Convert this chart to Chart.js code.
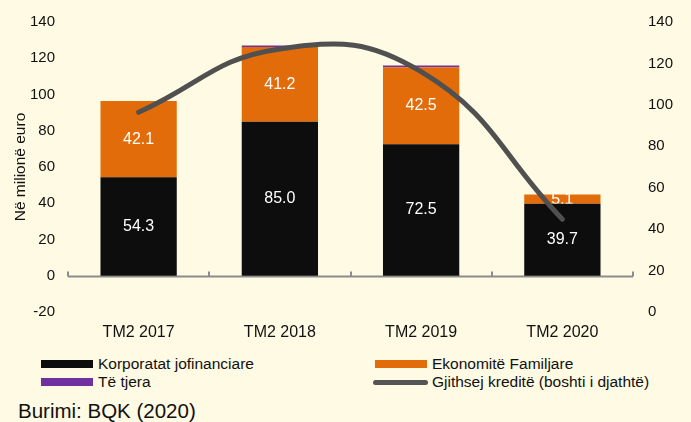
<!DOCTYPE html>
<html>
<head>
<meta charset="utf-8">
<script src="https://cdn.jsdelivr.net/npm/chart.js@4/dist/chart.umd.min.js"></script>
<style>
  html, body { margin: 0; padding: 0; background: #FEFAE3; }
  body { width: 691px; height: 422px; position: relative; overflow: hidden; font-family: Arial, "Liberation Sans", sans-serif; color: #111; }
  #wrap { position: absolute; left: 0; top: 0; width: 691px; height: 345px; }
  .leg { position: absolute; font-size: 15.5px; line-height: 18px; white-space: nowrap; }
  .leg i { position: absolute; top: 5px; width: 52px; height: 8px; }
  .leg span { position: absolute; left: 57px; top: 0; }
  #src { position: absolute; left: 18px; top: 400px; font-size: 20.5px; line-height: 22px; }
</style>
</head>
<body>
<div id="wrap"><canvas id="kredite" width="691" height="345"></canvas></div>
<div class="leg" style="left:41px; top:355px"><i style="background:#0D0D0D"></i><span>Korporatat jofinanciare</span></div>
<div class="leg" style="left:375px; top:355px"><i style="background:#E36C0A"></i><span>Ekonomitë Familjare</span></div>
<div class="leg" style="left:41px; top:373px"><i style="background:#7030A0"></i><span>Të tjera</span></div>
<div class="leg" style="left:375px; top:373px"><i style="background:#555; height:5px; top:7px; border-radius:3px; left:-2px; width:55px"></i><span>Gjithsej kreditë (boshti i djathtë)</span></div>
<div id="src">Burimi: BQK (2020)</div>
<script>
// data
const categories = ['TM2 2017', 'TM2 2018', 'TM2 2019', 'TM2 2020'];
const korporatat = [54.3, 85.0, 72.5, 39.7];
const familjare = [42.1, 41.2, 42.5, 5.1];
const teTjera = [0.0, 0.8, 1.0, 0.0];
const gjithsej = [96.4, 127.0, 116.0, 44.8];
const leftTicks = [-20, 0, 20, 40, 60, 80, 100, 120, 140];
const rightTicks = [0, 20, 40, 60, 80, 100, 120, 140];

// white value labels inside the bar segments (drawn before the line)
const barLabels = {
  id: 'barLabels',
  afterDatasetDraw(chart, args) {
    const meta = args.meta;
    if (meta.type !== 'bar' || args.index > 2) return;
    const ctx = chart.ctx;
    const ds = chart.data.datasets[args.index];
    ctx.save();
    ctx.fillStyle = '#fff';
    ctx.font = '16px Arial';
    ctx.textAlign = 'center';
    ctx.textBaseline = 'middle';
    meta.data.forEach((bar, i) => {
      const y = (bar.y + bar.base) / 2;
      ctx.fillText(ds.data[i].toFixed(1), bar.x, y);
    });
    ctx.restore();
  }
};

// zero line with small ticks between categories
const zeroAxis = {
  id: 'zeroAxis',
  beforeDatasetsDraw(chart) {
    const ctx = chart.ctx;
    const area = chart.chartArea;
    const y0 = Math.round(chart.scales.y.getPixelForValue(0)) + 0.5;
    const step = (area.right - area.left) / categories.length;
    ctx.save();
    ctx.strokeStyle = '#8C8C8C';
    ctx.lineWidth = 2;
    ctx.beginPath();
    ctx.moveTo(area.left, y0);
    ctx.lineTo(area.right, y0);
    for (let i = 0; i <= categories.length; i++) {
      const x = Math.round(area.left + i * step);
      ctx.moveTo(x, y0);
      ctx.lineTo(x, y0 - 5);
    }
    ctx.stroke();
    ctx.restore();
  }
};

const tickFont = { family: 'Arial', size: 15 };

new Chart(document.getElementById('kredite'), {
  data: {
    labels: categories,
    datasets: [
      { type: 'line', label: 'Gjithsej kreditë (boshti i djathtë)', data: gjithsej, yAxisID: 'y1',
        borderColor: '#505050', borderWidth: 5, tension: 0.45, pointRadius: 0, borderCapStyle: 'round', order: 0 },
      { type: 'bar', label: 'Korporatat jofinanciare', data: korporatat, backgroundColor: '#0D0D0D', stack: 's', order: 1 },
      { type: 'bar', label: 'Ekonomitë Familjare', data: familjare, backgroundColor: '#E36C0A', stack: 's', order: 1 },
      { type: 'bar', label: 'Të tjera', data: teTjera, backgroundColor: '#7030A0', stack: 's', order: 1 }
    ]
  },
  options: {
    responsive: false,
    animation: false,
    layout: { padding: { top: 22, left: 11, right: 0, bottom: 0 } },
    datasets: { bar: { barPercentage: 0.54, categoryPercentage: 1 } },
    plugins: { legend: { display: false }, tooltip: { enabled: false } },
    scales: {
      x: {
        stacked: true,
        grid: { display: false },
        border: { display: false },
        ticks: { font: { family: 'Arial', size: 16 }, color: '#111', padding: 3 },
        afterFit: s => { s.height = 33; }
      },
      y: {
        stacked: true,
        min: -20, max: 140,
        afterBuildTicks: s => { s.ticks = leftTicks.map(v => ({ value: v })); },
        grid: { display: false },
        border: { display: false },
        ticks: { font: tickFont, color: '#111', padding: 5 },
        title: { display: true, text: 'Në milionë euro', font: { family: 'Arial', size: 15.5 }, color: '#111', padding: 0 },
        afterFit: s => { s.width = 57; }
      },
      y1: {
        position: 'right',
        min: 0, max: 140,
        afterBuildTicks: s => { s.ticks = rightTicks.map(v => ({ value: v })); },
        grid: { display: false },
        border: { display: false },
        ticks: { font: tickFont, color: '#111', padding: 7 },
        afterFit: s => { s.width = 58; }
      }
    }
  },
  plugins: [zeroAxis, barLabels]
});
</script>
</body>
</html>
